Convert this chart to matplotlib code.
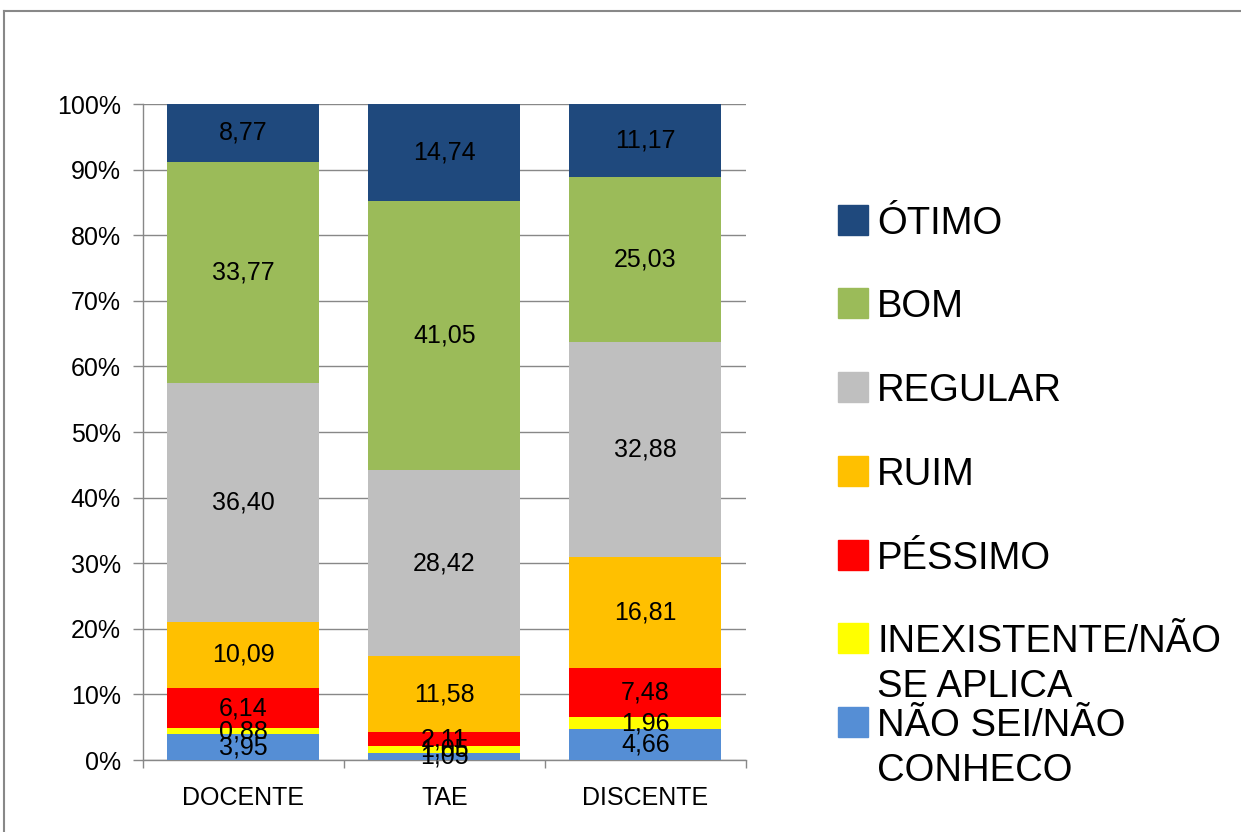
import numpy as np
import matplotlib.pyplot as plt
from matplotlib.patches import Rectangle
from matplotlib.lines import Line2D

plt.rcParams['font.family'] = ['Liberation Sans', 'DejaVu Sans']

# Data (percentages, stacked bottom -> top)
groups = ['DOCENTE', 'TAE', 'DISCENTE']
categories = ['NÃO SEI/NÃO\nCONHECO', 'INEXISTENTE/NÃO\nSE APLICA', 'PÉSSIMO',
              'RUIM', 'REGULAR', 'BOM', 'ÓTIMO']
nao_sei = [3.95, 1.05, 4.66]
inexistente = [0.88, 1.05, 1.96]
pessimo = [6.14, 2.11, 7.48]
ruim = [10.09, 11.58, 16.81]
regular = [36.40, 28.42, 32.88]
bom = [33.77, 41.05, 25.03]
otimo = [8.77, 14.74, 11.17]
series = [nao_sei, inexistente, pessimo, ruim, regular, bom, otimo]
colors = ['#558ED5', '#FFFF00', '#FF0000', '#FFC000', '#BFBFBF', '#9BBB59', '#1F497D']

fig = plt.figure(figsize=(12.41, 8.32), dpi=100)
ax = fig.add_axes([0.1152, 0.0865, 0.4859, 0.7885])

x = np.arange(len(groups))
bottom = np.zeros(len(groups))
for vals, col in zip(series, colors):
    vals = np.array(vals)
    ax.bar(x, vals, 0.756, bottom=bottom, color=col, zorder=3)
    for xi, b, v in zip(x, bottom, vals):
        ax.text(xi, b + v / 2, ('%.2f' % v).replace('.', ','), ha='center', va='center',
                fontsize=18, color='black', zorder=4)
    bottom += vals

ax.set_xlim(-0.5, 2.5)
ax.set_ylim(0, 100)
ax.set_yticks(np.arange(0, 101, 10))
ax.set_yticklabels(['%d%%' % v for v in range(0, 101, 10)], fontsize=18)
ax.set_xticks(x)
ax.set_xticklabels(groups, fontsize=18)
ax.set_xticks([-0.5, 0.5, 1.5, 2.5], minor=True)
ax.tick_params(axis='x', which='major', length=0, pad=19)
ax.tick_params(axis='x', which='minor', length=6, color='#888888', width=1)
ax.tick_params(axis='y', length=7, color='#888888', width=1, pad=9)
ax.yaxis.grid(True, color='#888888', linewidth=1, zorder=0)
for s in ['top', 'right']:
    ax.spines[s].set_visible(False)
for s in ['left', 'bottom']:
    ax.spines[s].set_color('#888888')
    ax.spines[s].set_linewidth(1)

# Legend drawn by hand (entries top -> bottom), pixel positions
W, H = 1241.0, 832.0
leg_y = [220, 303, 387, 471, 555, 638, 722]
for lab, col, yc in zip(categories[::-1], colors[::-1], leg_y):
    fig.patches.append(Rectangle((838 / W, 1 - (yc + 15) / H), 30 / W, 30 / H,
                                 transform=fig.transFigure, color=col))
    for i, line in enumerate(lab.split('\n')):
        fig.text(877 / W, 1 - (yc + 14 + i * 45) / H, line, ha='left', va='baseline',
                 fontsize=27.5, transform=fig.transFigure)

# outer frame
fig.add_artist(Line2D([4 / W, 1], [1 - 11 / H, 1 - 11 / H], color='#888888', lw=1.5))
fig.add_artist(Line2D([4 / W, 4 / W], [0, 1 - 11 / H], color='#888888', lw=1.5))

fig.savefig('out.png', dpi=100)
